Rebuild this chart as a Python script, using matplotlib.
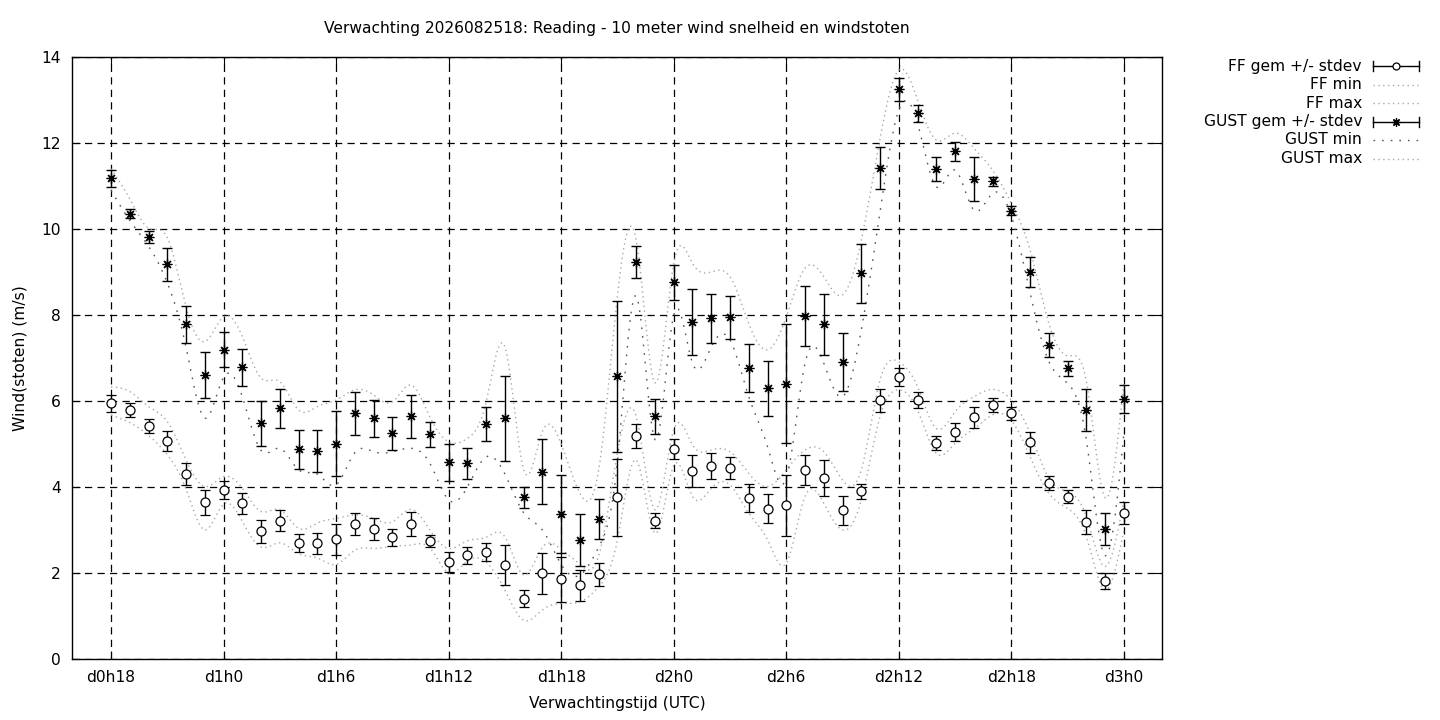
import numpy as np
import matplotlib
matplotlib.use("Agg")
import matplotlib.pyplot as plt
from matplotlib.lines import Line2D

# ---------------- data ----------------
hours = list(range(18, 73))  # forecast hour since d0h0

ff_mean = [5.95, 5.79, 5.42, 5.07, 4.30, 3.64, 3.93, 3.62, 2.97, 3.22,
           2.69, 2.69, 2.78, 3.14, 3.02, 2.83, 3.13, 2.74, 2.25, 2.41,
           2.49, 2.18, 1.40, 1.99, 1.85, 1.71, 1.97, 3.76, 5.19, 3.22,
           4.88, 4.37, 4.48, 4.44, 3.74, 3.50, 3.57, 4.39, 4.20, 3.46,
           3.90, 6.02, 6.56, 6.02, 5.02, 5.27, 5.62, 5.90, 5.71, 5.04,
           4.09, 3.77, 3.18, 1.81, 3.39]
ff_std = [0.20, 0.17, 0.17, 0.24, 0.26, 0.28, 0.22, 0.25, 0.27, 0.25,
          0.21, 0.25, 0.37, 0.26, 0.25, 0.20, 0.28, 0.14, 0.23, 0.20,
          0.20, 0.46, 0.20, 0.47, 0.52, 0.35, 0.27, 0.90, 0.28, 0.18,
          0.24, 0.38, 0.30, 0.26, 0.33, 0.34, 0.72, 0.35, 0.42, 0.34,
          0.17, 0.27, 0.20, 0.18, 0.17, 0.21, 0.25, 0.16, 0.15, 0.24,
          0.16, 0.15, 0.28, 0.18, 0.26]
ff_min = [5.67, 5.50, 5.20, 4.75, 3.95, 3.00, 3.60, 3.20, 2.60, 2.70,
          2.45, 2.35, 2.20, 2.53, 2.57, 2.62, 2.65, 2.58, 2.00, 2.28,
          2.25, 1.60, 0.90, 1.14, 1.29, 1.33, 1.68, 2.77, 4.63, 2.92,
          4.50, 3.78, 3.97, 4.05, 3.39, 2.77, 2.23, 3.78, 3.62, 3.00,
          3.70, 5.64, 6.26, 5.79, 4.78, 5.02, 5.35, 5.68, 5.55, 4.70,
          3.85, 3.50, 2.84, 1.60, 3.00]
ff_max = [6.33, 6.22, 5.87, 5.52, 4.63, 4.01, 4.24, 3.97, 3.43, 3.47,
          3.04, 3.16, 3.27, 3.35, 3.27, 3.19, 3.48, 3.00, 2.57, 2.75,
          2.83, 2.84, 1.95, 2.60, 2.55, 2.20, 2.40, 4.80, 5.64, 3.47,
          5.33, 4.98, 4.86, 4.82, 4.32, 4.01, 4.40, 4.86, 4.82, 4.16,
          4.40, 6.49, 6.91, 6.33, 5.36, 5.75, 6.10, 6.27, 6.02, 5.25,
          4.20, 3.89, 3.31, 2.15, 3.70]

gust_mean = [11.18, 10.36, 9.81, 9.18, 7.78, 6.60, 7.19, 6.78, 5.48, 5.83,
             4.88, 4.83, 5.01, 5.71, 5.60, 5.25, 5.64, 5.23, 4.57, 4.55,
             5.46, 5.60, 3.76, 4.36, 3.37, 2.77, 3.25, 6.57, 9.23, 5.64,
             8.76, 7.83, 7.92, 7.95, 6.77, 6.30, 6.40, 7.97, 7.78, 6.90,
             8.97, 11.41, 13.25, 12.69, 11.39, 11.81, 11.16, 11.11, 10.43, 9.00,
             7.30, 6.76, 5.79, 3.02, 6.05]
gust_std = [0.20, 0.10, 0.14, 0.38, 0.44, 0.53, 0.41, 0.43, 0.53, 0.45,
            0.45, 0.49, 0.76, 0.49, 0.43, 0.38, 0.49, 0.29, 0.44, 0.36,
            0.40, 0.99, 0.25, 0.76, 0.90, 0.60, 0.47, 1.75, 0.37, 0.40,
            0.40, 0.77, 0.56, 0.50, 0.56, 0.64, 1.38, 0.70, 0.72, 0.67,
            0.69, 0.49, 0.27, 0.19, 0.28, 0.22, 0.51, 0.11, 0.11, 0.36,
            0.27, 0.17, 0.48, 0.38, 0.33]
gust_min = [10.90, 10.20, 9.60, 8.75, 7.25, 5.60, 6.55, 6.10, 4.85, 4.90,
            4.40, 4.30, 4.05, 4.80, 4.82, 4.82, 4.90, 4.55, 3.70, 4.00,
            4.70, 4.30, 3.40, 3.00, 2.20, 1.95, 2.60, 4.60, 8.45, 5.10,
            8.00, 6.88, 7.26, 7.42, 6.10, 4.94, 4.20, 6.88, 6.88, 6.10,
            7.65, 10.40, 12.77, 12.46, 10.98, 11.37, 10.44, 10.83, 10.30, 8.50,
            6.92, 6.41, 5.09, 2.40, 5.25]
gust_max = [11.40, 10.70, 10.02, 9.80, 8.19, 7.38, 7.96, 7.50, 6.53, 6.45,
            5.79, 5.87, 6.02, 6.26, 6.14, 5.98, 6.37, 5.63, 5.05, 5.13,
            5.98, 7.26, 4.40, 5.29, 5.00, 3.85, 4.40, 8.45, 9.75, 6.42,
            9.20, 9.20, 9.00, 8.89, 7.80, 7.19, 7.96, 9.09, 8.89, 8.47,
            9.74, 12.10, 13.70, 13.00, 12.07, 12.23, 11.88, 11.37, 10.60, 9.51,
            7.80, 7.05, 6.45, 3.75, 6.45]

tick_hours = [18, 24, 30, 36, 42, 48, 54, 60, 66, 72]
tick_labels = [f"d{h // 24}h{h % 24}" for h in tick_hours]

title = "Verwachting 2026082518: Reading - 10 meter wind snelheid en windstoten"


# ------------- helper: natural cubic spline (gnuplot 'smooth csplines') -------------
def csplines(x, y, per=12):
    x = np.asarray(x, float)
    y = np.asarray(y, float)
    n = len(x)
    h = np.diff(x)
    A = np.zeros((n, n))
    b = np.zeros(n)
    A[0, 0] = 1
    A[-1, -1] = 1
    for i in range(1, n - 1):
        A[i, i - 1] = h[i - 1]
        A[i, i] = 2 * (h[i - 1] + h[i])
        A[i, i + 1] = h[i]
        b[i] = 6 * ((y[i + 1] - y[i]) / h[i] - (y[i] - y[i - 1]) / h[i - 1])
    M = np.linalg.solve(A, b)
    xs, ys = [], []
    for i in range(n - 1):
        t = np.linspace(x[i], x[i + 1], per, endpoint=(i == n - 2))
        a = x[i + 1] - t
        c = t - x[i]
        hi = h[i]
        s = (M[i] * a ** 3 / (6 * hi) + M[i + 1] * c ** 3 / (6 * hi)
             + (y[i] / hi - M[i] * hi / 6) * a + (y[i + 1] / hi - M[i + 1] * hi / 6) * c)
        xs.append(t)
        ys.append(s)
    return np.concatenate(xs), np.concatenate(ys)


# ---------------- figure ----------------
plt.rcParams['font.family'] = ['DejaVu Sans']
FS = 11.2
W, H = 1440, 720
fig = plt.figure(figsize=(W / 100, H / 100), dpi=100)
fig.patch.set_facecolor('white')
L, R, B, T = 72, 1162, 659, 57
ax = fig.add_axes([L / W, 1 - B / H, (R - L) / W, (B - T) / H])

light = '#a8a8a8'
dark = '#555555'
ls_light = (0, (1, 2.5))
ls_dark = (0, (1.2, 5))

for arr, col, ls in [(ff_min, light, ls_light), (ff_max, light, ls_light),
                     (gust_min, dark, ls_dark), (gust_max, light, ls_light)]:
    sx, sy = csplines(hours, arr)
    ax.plot(sx, sy, color=col, lw=1.0, linestyle=ls, zorder=2)

cap = 3.6
ax.errorbar(hours, ff_mean, yerr=ff_std, fmt='o', ms=6.5, mfc='white', mec='black',
            mew=0.9, ecolor='black', elinewidth=1.0, capsize=cap, capthick=1.0, zorder=4)
ax.errorbar(hours, gust_mean, yerr=gust_std, fmt='none', ecolor='black',
            elinewidth=1.0, capsize=cap, capthick=1.0, zorder=4)
ax.plot(hours, gust_mean, linestyle='none', marker=(8, 2, 0), ms=7, mec='black',
        mew=0.9, color='black', zorder=5)

ax.set_xlim(15.92, 74.03)
ax.set_ylim(0, 14)
ax.set_xticks(tick_hours)
ax.set_xticklabels(tick_labels)
ax.set_yticks(np.arange(0, 15, 2))
ax.tick_params(direction='in', length=6, width=0.8, labelsize=FS, pad=8,
               top=True, right=True, colors='black')
ax.grid(True, color='black', linestyle=(0, (5.8, 4.2)), linewidth=0.9)
ax.set_axisbelow(True)
for sp in ax.spines.values():
    sp.set_linewidth(1.0)
    sp.set_color('black')

ax.set_xlabel("Verwachtingstijd (UTC)", fontsize=FS, labelpad=8)
ax.set_ylabel("Wind(stoten) (m/s)", fontsize=FS, labelpad=10)
fig.text(617 / W, 1 - 29 / H, title, ha='center', va='center', fontsize=FS)

# ---------------- manual gnuplot-style legend ----------------
leg_labels = ["FF gem +/- stdev", "FF min", "FF max",
              "GUST gem +/- stdev", "GUST min", "GUST max"]
leg_y = [66, 84.5, 103, 121.5, 140, 158.5]
tx = 1362
x0, x1 = 1373, 1419


def fx(px):
    return px / W


def fy(py):
    return 1 - py / H


for i, (lab, py) in enumerate(zip(leg_labels, leg_y)):
    fig.text(fx(tx), fy(py), lab, ha='right', va='center', fontsize=FS)
    if i in (0, 3):
        fig.add_artist(Line2D([fx(x0), fx(x1)], [fy(py), fy(py)], color='black', lw=1.0))
        for xx in (x0, x1):
            fig.add_artist(Line2D([fx(xx), fx(xx)], [fy(py - 5), fy(py + 5)], color='black', lw=1.0))
        if i == 0:
            fig.add_artist(Line2D([fx((x0 + x1) / 2)], [fy(py)], marker='o', ms=5,
                                  mfc='white', mec='black', mew=0.9, linestyle='none'))
        else:
            fig.add_artist(Line2D([fx((x0 + x1) / 2)], [fy(py)], marker=(8, 2, 0), ms=6,
                                  mec='black', mew=0.9, linestyle='none'))
    else:
        col, ls = (dark, ls_dark) if i == 4 else (light, ls_light)
        fig.add_artist(Line2D([fx(x0), fx(x1)], [fy(py), fy(py)], color=col, lw=1.0, linestyle=ls))

fig.savefig("out.png", dpi=100)
